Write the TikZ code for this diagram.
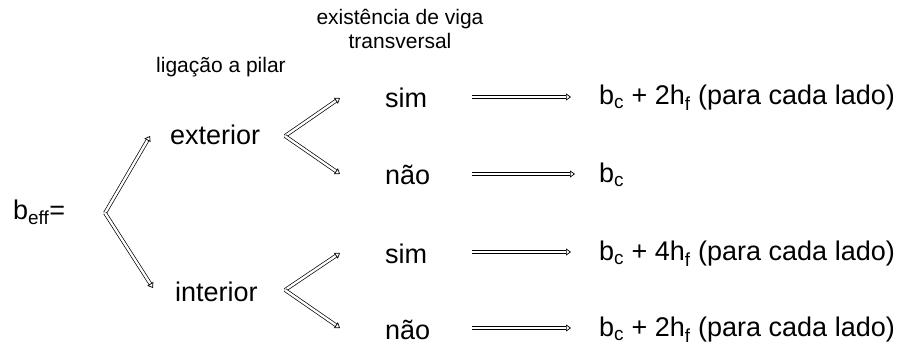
\documentclass[tikz,border=0pt]{standalone}
\usepackage{fontspec}
\setmainfont{Liberation Sans}
\usetikzlibrary{arrows.meta}
\tikzstyle{txt}=[inner sep=0pt,font=\fontsize{27}{29}\selectfont]
\tikzstyle{small}=[inner sep=0pt,font=\fontsize{21}{22}\selectfont]
\tikzstyle{dgraph}=[double,double distance=2.3pt,line width=0.7pt,-{Triangle[open,length=5pt,width=7pt]}]

\begin{document}
\begin{tikzpicture}[x=1pt,y=-1pt]
\useasboundingbox (0,0) rectangle (905,345);
\node[small] (lig) at (221,67) {ligação a pilar};
\node[small] (viga) at (400,19) {existência de viga};
\node[small] (trans) at (400,41) {transversal};
\node[txt,anchor=west] (beff) at (13,212) {b\textsubscript{eff}=};
\node[txt,anchor=west] (ext) at (170,135) {exterior};
\node[txt,anchor=west] (int) at (175,292) {interior};
\node[txt,anchor=west] (s1) at (385,98) {sim};
\node[txt,anchor=west] (n1) at (385,175) {não};
\node[txt,anchor=west] (s2) at (385,254) {sim};
\node[txt,anchor=west] (n2) at (385,330) {não};
\node[txt,anchor=west] (r1) at (599,98) {b\textsubscript{c} + 2h\textsubscript{f} (para cada lado)};
\node[txt,anchor=west] (r2) at (599,175) {b\textsubscript{c}};
\node[txt,anchor=west] (r3) at (599,254) {b\textsubscript{c} + 4h\textsubscript{f} (para cada lado)};
\node[txt,anchor=west] (r4) at (599,330) {b\textsubscript{c} + 2h\textsubscript{f} (para cada lado)};
\coordinate (v0) at (105,213); \coordinate (v0a) at (150,136); \coordinate (v0b) at (153,288);
\coordinate (v1) at (285,136); \coordinate (v1a) at (340,98); \coordinate (v1b) at (340,174);
\coordinate (v2) at (285,290); \coordinate (v2a) at (340,253); \coordinate (v2b) at (340,328);
\coordinate (h1) at (472,97); \coordinate (h2) at (472,174);
\coordinate (h3) at (472,252); \coordinate (h4) at (472,328);
\draw[dgraph](v0)--(v0a);\draw[dgraph](v0)--(v0b);
\draw[dgraph](v1)--(v1a);\draw[dgraph](v1)--(v1b);
\draw[dgraph](v2)--(v2a);\draw[dgraph](v2)--(v2b);
\draw[dgraph](h1)--(571,97);\draw[dgraph](h2)--(575,174);
\draw[dgraph](h3)--(571,252);\draw[dgraph](h4)--(571,328);
\end{tikzpicture}
\end{document}
